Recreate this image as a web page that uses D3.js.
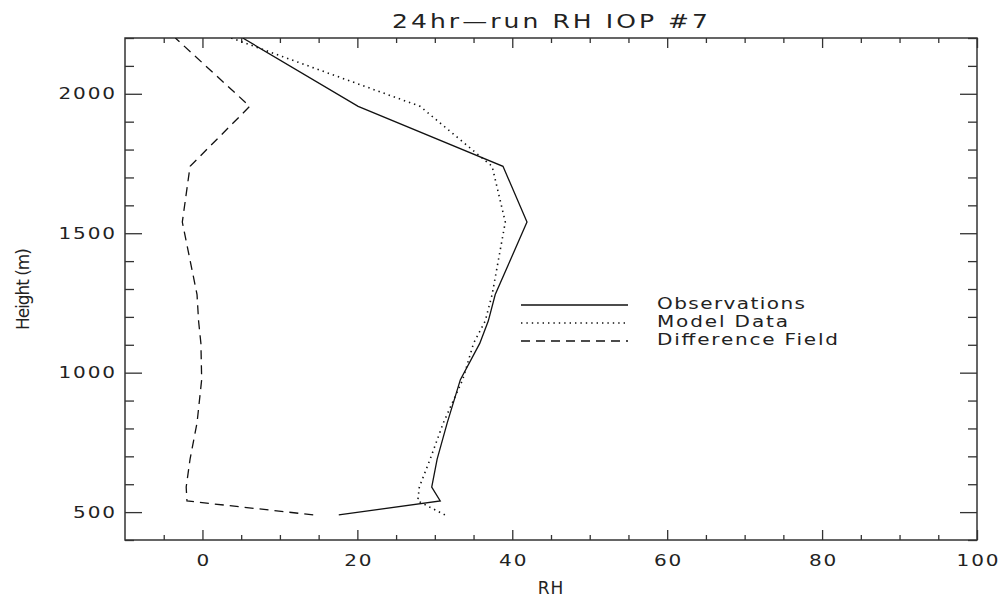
<!DOCTYPE html>
<html>
<head>
<meta charset="utf-8">
<script src="https://cdn.jsdelivr.net/npm/d3@7"></script>
<style>
  body { margin: 0; background: #fff; }
  svg text { font-family: "DejaVu Sans", sans-serif; fill: #222; }
</style>
</head>
<body>
<div id="chart"></div>
<script>
// --------------------------------------
//  Data
// --------------------------------------

const heights = [490, 540, 590, 690, 820, 975, 1105, 1185, 1280, 1540, 1740, 1955, 2200];
const obsRH   = [17.6, 30.7, 29.6, 30.3, 31.6, 33.3, 35.8, 36.9, 37.8, 41.9, 38.8, 20.1, 5.2];
const modelRH = [31.3, 27.8, 28.0, 29.4, 31.1, 33.6, 35.0, 36.5, 37.4, 39.1, 37.4, 28.1, 3.7];
const diffRH  = [14.3, -2.0, -2.1, -1.6, -0.7, -0.1, -0.2, -0.5, -0.7, -2.6, -1.6, 6.1, -3.5];

const xTicks = [0, 20, 40, 60, 80, 100];
const yTicks = [500, 1000, 1500, 2000];
const xMinor = d3.range(-5, 100, 5).filter(d => d % 20 !== 0);
const yMinor = d3.range(400, 2201, 100).filter(d => d % 500 !== 0);

const series = [
  {name: "Observations",     values: obsRH,   dash: null,    len: 148},
  {name: "Model Data",       values: modelRH, dash: "1.4,4", len: 131},
  {name: "Difference Field", values: diffRH,  dash: "9,6",   len: 181}
];

// --------------------------------------
//  Canvas and scales
// --------------------------------------

const width = 1005, height = 602;
const plot = {left: 125, right: 977, top: 38, bottom: 540};
const wide = 1.25; // horizontal stretch to mimic the wide vector font

const svg = d3.select("#chart")
  .append("svg")
    .attr("width", width)
    .attr("height", height);

const x = d3.scaleLinear().domain([-10, 100]).range([plot.left, plot.right]);
const y = d3.scaleLinear().domain([400, 2200]).range([plot.bottom, plot.top]);

const pw = plot.right - plot.left;
const ph = plot.bottom - plot.top;

// --------------------------------------
//  Axes (ticks inward on all four sides)
// --------------------------------------

function styleAxis(g) {
  g.select(".domain").remove();
  g.selectAll("line").attr("stroke", "#333").attr("stroke-width", 1.3);
  g.selectAll("text")
    .attr("font-family", "DejaVu Sans, sans-serif")
    .attr("font-size", 16)
    .attr("letter-spacing", "1.5px")
    .attr("fill", "#222");
}

svg.append("g")
  .attr("transform", `translate(0, ${plot.bottom})`)
  .call(d3.axisBottom(x).tickValues(xTicks).tickSize(-10).tickPadding(15).tickFormat(d3.format("d")))
  .call(styleAxis)
  .call(g => g.selectAll("text").attr("dx", "0.75px").attr("transform", `scale(${wide},1)`));

svg.append("g")
  .attr("transform", `translate(0, ${plot.bottom})`)
  .call(d3.axisBottom(x).tickValues(xMinor).tickSize(-5).tickFormat(""))
  .call(styleAxis);

svg.append("g")
  .attr("transform", `translate(0, ${plot.top})`)
  .call(d3.axisTop(x).tickValues(xTicks).tickSize(-10).tickFormat(""))
  .call(styleAxis);

svg.append("g")
  .attr("transform", `translate(0, ${plot.top})`)
  .call(d3.axisTop(x).tickValues(xMinor).tickSize(-5).tickFormat(""))
  .call(styleAxis);

svg.append("g")
  .attr("transform", `translate(${plot.left}, 0)`)
  .call(d3.axisLeft(y).tickValues(yTicks).tickSize(-17).tickPadding(8).tickFormat(d3.format("d")))
  .call(styleAxis)
  .call(g => g.selectAll("text").attr("dx", "1.5px").attr("transform", `scale(${wide},1)`));

svg.append("g")
  .attr("transform", `translate(${plot.left}, 0)`)
  .call(d3.axisLeft(y).tickValues(yMinor).tickSize(-9).tickFormat(""))
  .call(styleAxis);

svg.append("g")
  .attr("transform", `translate(${plot.right}, 0)`)
  .call(d3.axisRight(y).tickValues(yTicks).tickSize(-17).tickFormat(""))
  .call(styleAxis);

svg.append("g")
  .attr("transform", `translate(${plot.right}, 0)`)
  .call(d3.axisRight(y).tickValues(yMinor).tickSize(-9).tickFormat(""))
  .call(styleAxis);

svg.append("rect")
  .attr("x", plot.left)
  .attr("y", plot.top)
  .attr("width", pw)
  .attr("height", ph)
  .attr("fill", "none")
  .attr("stroke", "#333")
  .attr("stroke-width", 1.5);

// --------------------------------------
//  Lines
// --------------------------------------

svg.append("clipPath")
  .attr("id", "clip")
  .append("rect")
    .attr("x", plot.left).attr("y", plot.top)
    .attr("width", pw).attr("height", ph);

const line = d3.line()
  .x(d => x(d[0]))
  .y(d => y(d[1]));

svg.append("g")
  .attr("clip-path", "url(#clip)")
  .selectAll("path")
  .data(series)
  .join("path")
    .attr("d", s => line(s.values.map((v, i) => [v, heights[i]])))
    .attr("fill", "none")
    .attr("stroke", "#111")
    .attr("stroke-width", s => s.dash === "1.4,4" ? 1.6 : 1.3)
    .attr("stroke-dasharray", s => s.dash);

// --------------------------------------
//  Legend
// --------------------------------------

const legend = svg.append("g");

series.forEach((s, i) => {
  const ly = 305 + i * 18;
  legend.append("line")
    .attr("x1", 521).attr("x2", 628)
    .attr("y1", ly).attr("y2", ly)
    .attr("stroke", "#111")
    .attr("stroke-width", s.dash === "1.4,4" ? 1.6 : 1.3)
    .attr("stroke-dasharray", s.dash);
  legend.append("text")
    .attr("transform", `translate(657, ${ly + 4}) scale(${wide},1)`)
    .attr("font-size", 16)
    .attr("textLength", s.len / wide)
    .attr("lengthAdjust", "spacing")
    .text(s.name);
});

// --------------------------------------
//  Titles
// --------------------------------------

svg.append("text")
  .attr("transform", `translate(392, 28) scale(${wide},1)`)
  .attr("font-size", 20)
  .attr("textLength", 316 / wide)
  .attr("lengthAdjust", "spacing")
  .text("24hr\u2014run RH IOP #7");

svg.append("text")
  .attr("x", (plot.left + plot.right) / 2)
  .attr("y", 594)
  .attr("text-anchor", "middle")
  .attr("font-size", 17)
  .attr("letter-spacing", "1px")
  .text("RH");

svg.append("text")
  .attr("transform", `translate(29, ${(plot.top + plot.bottom) / 2}) rotate(-90)`)
  .attr("text-anchor", "middle")
  .attr("font-size", 17)
  .attr("textLength", 82)
  .attr("lengthAdjust", "spacing")
  .text("Height (m)");
</script>
</body>
</html>
